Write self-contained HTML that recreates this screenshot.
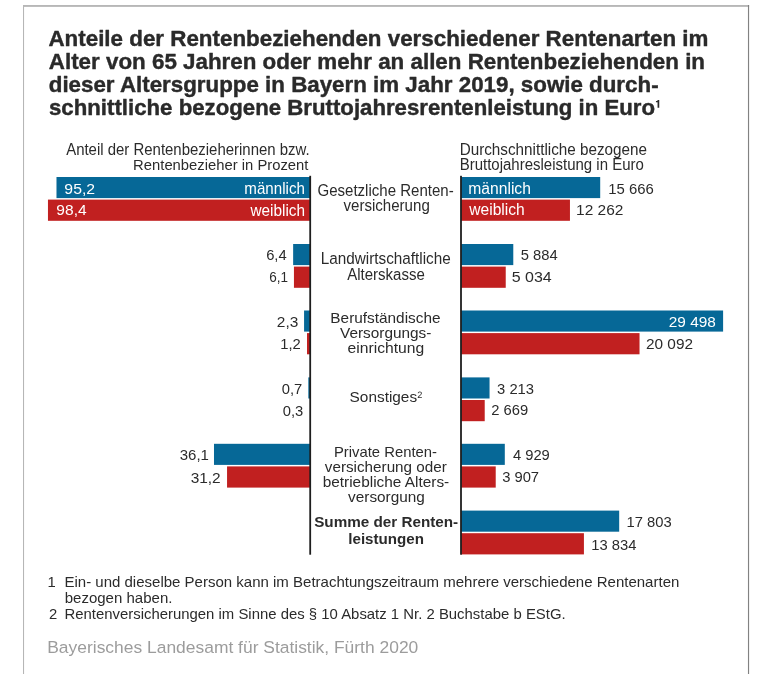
<!DOCTYPE html>
<html lang="de">
<head>
<meta charset="utf-8">
<title>Anteile der Rentenbeziehenden verschiedener Rentenarten in Bayern 2019</title>
<style>
html,body{margin:0;padding:0;background:#ffffff;}
body{width:763px;height:686px;overflow:hidden;font-family:"Liberation Sans", sans-serif;}
svg{display:block;will-change:transform;}
text{font-family:"Liberation Sans", sans-serif;white-space:pre;}
</style>
</head>
<body>
<svg width="763" height="686" viewBox="0 0 763 686">
<rect x="0" y="0" width="763" height="686" fill="#ffffff"/>
<!-- frame -->
<rect x="23.00" y="5.00" width="726.10" height="1.90" fill="#b7b7b7"/>
<rect x="23.00" y="5.00" width="1.05" height="669.00" fill="#b6b6b6"/>
<rect x="747.95" y="5.00" width="1.15" height="669.00" fill="#828282"/>
<!-- bars -->
<rect x="56.49" y="177.00" width="253.71" height="21.10" fill="#066897"/>
<rect x="47.96" y="199.60" width="262.24" height="21.20" fill="#c12020"/>
<rect x="461.00" y="177.00" width="139.20" height="21.10" fill="#066897"/>
<rect x="461.00" y="199.60" width="108.95" height="21.20" fill="#c12020"/>
<rect x="293.14" y="244.00" width="17.06" height="21.10" fill="#066897"/>
<rect x="293.94" y="266.60" width="16.26" height="21.20" fill="#c12020"/>
<rect x="461.00" y="244.00" width="52.28" height="21.10" fill="#066897"/>
<rect x="461.00" y="266.60" width="44.73" height="21.20" fill="#c12020"/>
<rect x="304.07" y="310.50" width="6.13" height="21.10" fill="#066897"/>
<rect x="307.00" y="333.10" width="3.20" height="21.20" fill="#c12020"/>
<rect x="461.00" y="310.50" width="262.10" height="21.10" fill="#066897"/>
<rect x="461.00" y="333.10" width="178.53" height="21.20" fill="#c12020"/>
<rect x="308.33" y="377.40" width="1.87" height="21.10" fill="#066897"/>
<rect x="461.00" y="377.40" width="28.55" height="21.10" fill="#066897"/>
<rect x="461.00" y="400.00" width="23.72" height="21.20" fill="#c12020"/>
<rect x="213.99" y="443.80" width="96.21" height="21.10" fill="#066897"/>
<rect x="227.05" y="466.40" width="83.15" height="21.20" fill="#c12020"/>
<rect x="461.00" y="443.80" width="43.80" height="21.10" fill="#066897"/>
<rect x="461.00" y="466.40" width="34.72" height="21.20" fill="#c12020"/>
<rect x="461.00" y="510.60" width="158.19" height="21.10" fill="#066897"/>
<rect x="461.00" y="533.20" width="122.92" height="21.20" fill="#c12020"/>
<!-- axes -->
<rect x="309.30" y="175.80" width="1.80" height="378.90" fill="#1e1e1e"/>
<rect x="460.10" y="175.80" width="1.80" height="378.90" fill="#1e1e1e"/>
<!-- text -->
<text x="48.44" y="46.30" font-size="21.4" font-weight="bold" textLength="660.00" lengthAdjust="spacingAndGlyphs" fill="#2a2a2a" stroke="#2a2a2a" stroke-width="0.4" stroke-linejoin="round">Anteile der Rentenbeziehenden verschiedener Rentenarten im</text>
<text x="48.80" y="69.20" font-size="21.4" font-weight="bold" textLength="656.23" lengthAdjust="spacingAndGlyphs" fill="#2a2a2a" stroke="#2a2a2a" stroke-width="0.4" stroke-linejoin="round">Alter von 65 Jahren oder mehr an allen Rentenbeziehenden in</text>
<text x="48.74" y="91.80" font-size="21.4" font-weight="bold" textLength="609.84" lengthAdjust="spacingAndGlyphs" fill="#2a2a2a" stroke="#2a2a2a" stroke-width="0.4" stroke-linejoin="round">dieser Altersgruppe in Bayern im Jahr 2019, sowie durch-</text>
<text x="49.03" y="114.60" font-size="21.4" font-weight="bold" textLength="606.08" lengthAdjust="spacingAndGlyphs" fill="#2a2a2a" stroke="#2a2a2a" stroke-width="0.4" stroke-linejoin="round">schnittliche bezogene Bruttojahresrentenleistung in Euro</text>
<polygon points="659.25,99.9 659.25,107.8 657.55,107.8 657.55,102.3 655.95,102.3 655.95,101.1 657.0,100.9 657.95,99.9" fill="#2a2a2a"/>
<text x="66.17" y="154.80" font-size="16.3" textLength="243.48" lengthAdjust="spacingAndGlyphs" fill="#2b2b2b">Anteil der Rentenbezieherinnen bzw.</text>
<text x="133.11" y="169.80" font-size="15.2" textLength="175.35" lengthAdjust="spacingAndGlyphs" fill="#2b2b2b">Rentenbezieher in Prozent</text>
<text x="459.65" y="154.80" font-size="16.7" textLength="187.37" lengthAdjust="spacingAndGlyphs" fill="#2b2b2b">Durchschnittliche bezogene</text>
<text x="459.69" y="169.80" font-size="15.6" textLength="184.15" lengthAdjust="spacingAndGlyphs" fill="#2b2b2b">Bruttojahresleistung in Euro</text>
<text x="317.45" y="195.90" font-size="16.4" textLength="136.26" lengthAdjust="spacingAndGlyphs" fill="#2b2b2b">Gesetzliche Renten-</text>
<text x="343.50" y="210.90" font-size="16.0" textLength="86.27" lengthAdjust="spacingAndGlyphs" fill="#2b2b2b">versicherung</text>
<text x="320.78" y="263.90" font-size="16.7" textLength="129.92" lengthAdjust="spacingAndGlyphs" fill="#2b2b2b">Landwirtschaftliche</text>
<text x="347.17" y="280.00" font-size="15.6" textLength="77.70" lengthAdjust="spacingAndGlyphs" fill="#2b2b2b">Alterskasse</text>
<text x="330.36" y="322.70" font-size="14.8" textLength="110.17" lengthAdjust="spacingAndGlyphs" fill="#2b2b2b">Berufständische</text>
<text x="340.00" y="337.60" font-size="14.8" textLength="91.39" lengthAdjust="spacingAndGlyphs" fill="#2b2b2b">Versorgungs-</text>
<text x="347.55" y="352.80" font-size="14.8" textLength="76.72" lengthAdjust="spacingAndGlyphs" fill="#2b2b2b">einrichtung</text>
<text x="349.61" y="401.80" font-size="15.2" textLength="67.49" lengthAdjust="spacingAndGlyphs" fill="#2b2b2b">Sonstiges</text>
<text x="417.21" y="398.30" font-size="9.2" text-rendering="geometricPrecision" fill="#2b2b2b">2</text>
<text x="333.93" y="456.80" font-size="14.5" textLength="103.02" lengthAdjust="spacingAndGlyphs" fill="#2b2b2b">Private Renten-</text>
<text x="324.86" y="471.80" font-size="14.5" textLength="121.89" lengthAdjust="spacingAndGlyphs" fill="#2b2b2b">versicherung oder</text>
<text x="322.68" y="487.20" font-size="14.5" textLength="126.55" lengthAdjust="spacingAndGlyphs" fill="#2b2b2b">betriebliche Alters-</text>
<text x="348.10" y="501.70" font-size="14.5" textLength="76.73" lengthAdjust="spacingAndGlyphs" fill="#2b2b2b">versorgung</text>
<text x="314.18" y="527.20" font-size="14.7" font-weight="bold" textLength="143.97" lengthAdjust="spacingAndGlyphs" fill="#2b2b2b">Summe der Renten-</text>
<text x="348.30" y="543.60" font-size="14.7" font-weight="bold" textLength="75.69" lengthAdjust="spacingAndGlyphs" fill="#2b2b2b">leistungen</text>
<text x="244.32" y="193.70" font-size="15.7" textLength="60.54" lengthAdjust="spacingAndGlyphs" fill="#ffffff">männlich</text>
<text x="250.45" y="215.60" font-size="16.0" textLength="54.60" lengthAdjust="spacingAndGlyphs" fill="#ffffff">weiblich</text>
<text x="64.38" y="193.60" font-size="15.0" textLength="30.71" lengthAdjust="spacingAndGlyphs" fill="#ffffff">95,2</text>
<text x="56.39" y="215.20" font-size="15.0" textLength="30.22" lengthAdjust="spacingAndGlyphs" fill="#ffffff">98,4</text>
<text x="468.32" y="193.60" font-size="16.0" textLength="62.57" lengthAdjust="spacingAndGlyphs" fill="#ffffff">männlich</text>
<text x="469.28" y="215.30" font-size="16.0" textLength="55.41" lengthAdjust="spacingAndGlyphs" fill="#ffffff">weiblich</text>
<text x="47.42" y="586.80" font-size="14.8" fill="#2b2b2b">1</text>
<text x="64.45" y="586.80" font-size="14.8" textLength="614.90" lengthAdjust="spacingAndGlyphs" fill="#2b2b2b">Ein- und dieselbe Person kann im Betrachtungszeitraum mehrere verschiedene Rentenarten</text>
<text x="64.69" y="602.50" font-size="14.8" textLength="107.76" lengthAdjust="spacingAndGlyphs" fill="#2b2b2b">bezogen haben.</text>
<text x="49.00" y="618.70" font-size="14.8" fill="#2b2b2b">2</text>
<text x="64.48" y="618.70" font-size="14.8" textLength="501.17" lengthAdjust="spacingAndGlyphs" fill="#2b2b2b">Rentenversicherungen im Sinne des § 10 Absatz 1 Nr. 2 Buchstabe b EStG.</text>
<text x="47.24" y="652.80" font-size="17.2" textLength="371.04" lengthAdjust="spacingAndGlyphs" fill="#9c9c9c">Bayerisches Landesamt für Statistik, Fürth 2020</text>
<text x="608.30" y="193.60" font-size="15.0" textLength="45.59" lengthAdjust="spacingAndGlyphs" fill="#2b2b2b">15 666</text>
<text x="576.09" y="214.90" font-size="15.0" textLength="47.34" lengthAdjust="spacingAndGlyphs" fill="#2b2b2b">12 262</text>
<text x="266.14" y="260.10" font-size="15.0" textLength="20.54" lengthAdjust="spacingAndGlyphs" fill="#2b2b2b">6,4</text>
<text x="269.36" y="282.30" font-size="15.0" textLength="18.78" lengthAdjust="spacingAndGlyphs" fill="#2b2b2b">6,1</text>
<text x="520.80" y="260.10" font-size="15.0" textLength="36.97" lengthAdjust="spacingAndGlyphs" fill="#2b2b2b">5 884</text>
<text x="511.75" y="281.90" font-size="15.0" textLength="40.00" lengthAdjust="spacingAndGlyphs" fill="#2b2b2b">5 034</text>
<text x="276.84" y="326.60" font-size="15.0" textLength="21.48" lengthAdjust="spacingAndGlyphs" fill="#2b2b2b">2,3</text>
<text x="280.27" y="348.80" font-size="15.0" textLength="20.54" lengthAdjust="spacingAndGlyphs" fill="#2b2b2b">1,2</text>
<text x="668.82" y="326.60" font-size="15.0" textLength="47.10" lengthAdjust="spacingAndGlyphs" fill="#ffffff">29 498</text>
<text x="645.95" y="349.00" font-size="15.0" textLength="47.07" lengthAdjust="spacingAndGlyphs" fill="#2b2b2b">20 092</text>
<text x="281.81" y="393.50" font-size="15.0" textLength="20.54" lengthAdjust="spacingAndGlyphs" fill="#2b2b2b">0,7</text>
<text x="282.81" y="415.70" font-size="15.0" textLength="20.54" lengthAdjust="spacingAndGlyphs" fill="#2b2b2b">0,3</text>
<text x="497.09" y="393.50" font-size="15.0" textLength="36.97" lengthAdjust="spacingAndGlyphs" fill="#2b2b2b">3 213</text>
<text x="491.27" y="415.30" font-size="15.0" textLength="36.97" lengthAdjust="spacingAndGlyphs" fill="#2b2b2b">2 669</text>
<text x="179.77" y="459.90" font-size="15.0" textLength="29.19" lengthAdjust="spacingAndGlyphs" fill="#2b2b2b">36,1</text>
<text x="190.65" y="483.00" font-size="15.0" textLength="30.07" lengthAdjust="spacingAndGlyphs" fill="#2b2b2b">31,2</text>
<text x="512.88" y="459.90" font-size="15.0" textLength="36.97" lengthAdjust="spacingAndGlyphs" fill="#2b2b2b">4 929</text>
<text x="502.14" y="481.70" font-size="15.0" textLength="36.97" lengthAdjust="spacingAndGlyphs" fill="#2b2b2b">3 907</text>
<text x="626.51" y="526.70" font-size="15.0" textLength="45.19" lengthAdjust="spacingAndGlyphs" fill="#2b2b2b">17 803</text>
<text x="591.34" y="549.70" font-size="15.0" textLength="45.19" lengthAdjust="spacingAndGlyphs" fill="#2b2b2b">13 834</text>
</svg>
</body>
</html>
